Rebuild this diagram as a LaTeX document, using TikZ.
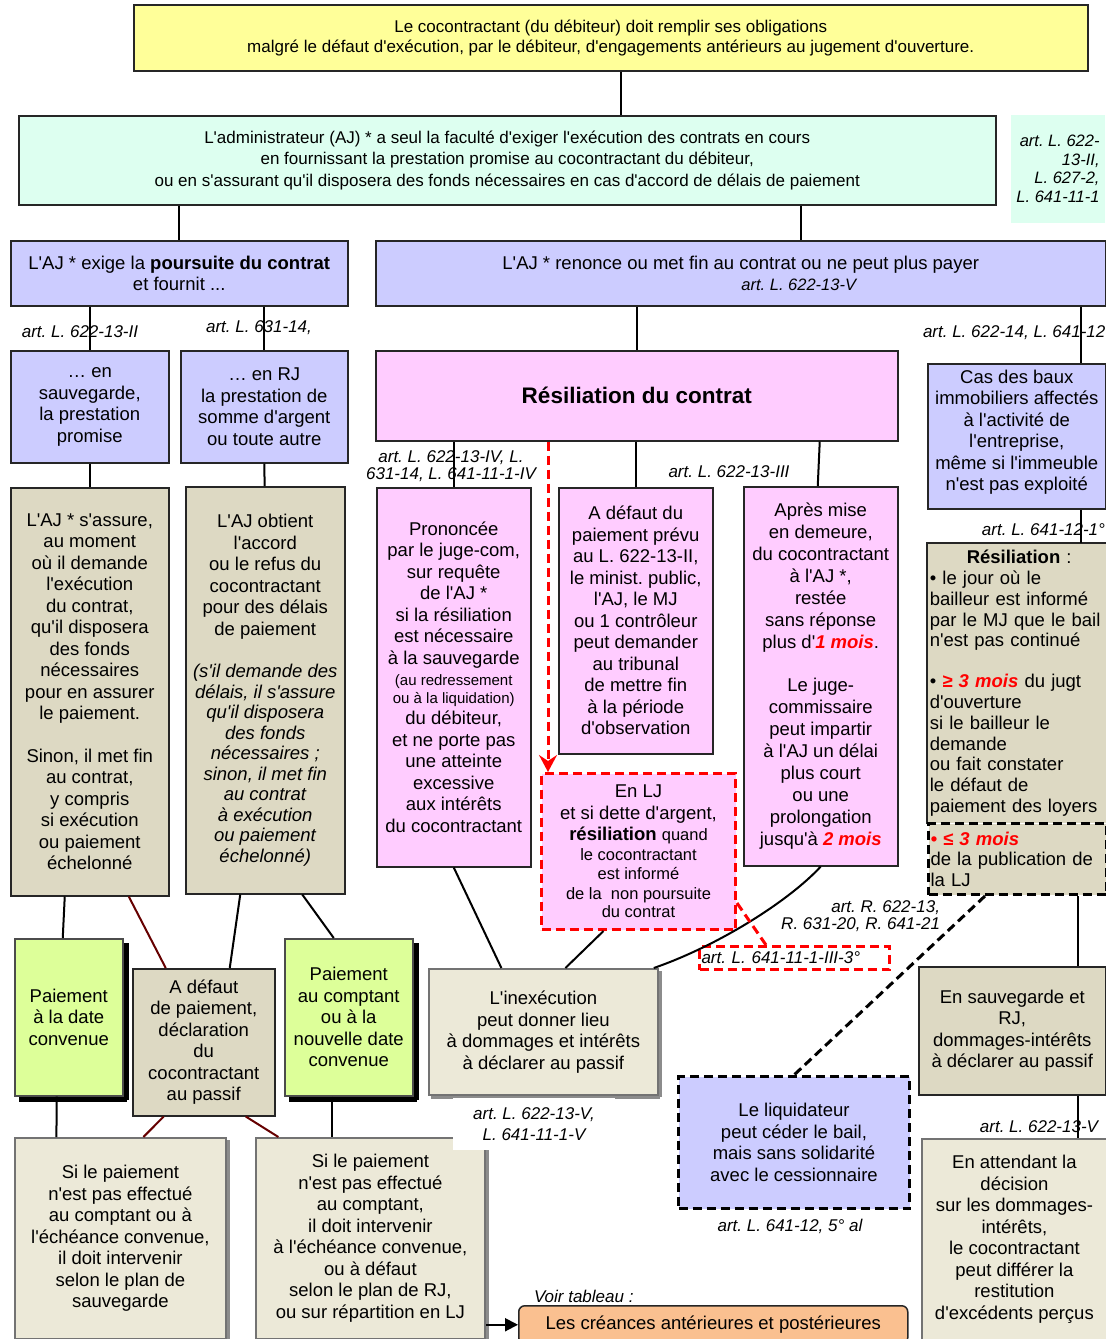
\documentclass[tikz,border=0pt]{standalone}
\usepackage{fontspec}
\setmainfont{Liberation Sans}[Ligatures=TeXOff]
\usetikzlibrary{arrows.meta}
\definecolor{jaune}{HTML}{FFFF99}
\definecolor{menthe}{HTML}{DDFFF0}
\definecolor{lavande}{HTML}{CCCCFF}
\definecolor{rose}{HTML}{FFCCFF}
\definecolor{beige}{HTML}{DDD9C3}
\definecolor{beigeclair}{HTML}{ECE9D8}
\definecolor{vert}{HTML}{DDFF99}
\definecolor{peche}{HTML}{FAC090}
\definecolor{brun}{HTML}{660000}
\newcommand\rouge[1]{\textcolor{red}{\bfseries\itshape #1}}
\newcommand\petit[1]{{\fontsize{16.5}{19.5}\selectfont #1}}
\newcommand\minus[1]{{\fontsize{15}{17}\selectfont #1}}
\frenchspacing
\begin{document}
\begin{tikzpicture}[x=1pt, y=-1pt, line width=2pt,
  box/.style={draw=black!85, line width=1.5pt, anchor=north west, align=center, inner sep=2pt,
    font=\fontsize{18.5}{21.5}\selectfont},
  flat/.style={box, fill=beige},
  relief/.style={box, fill=beigeclair, draw=black!55, line width=1.8pt},
  vertbox/.style={box, fill=vert, draw=black!70},
  ombre/.style={fill=black},
  ombregris/.style={fill=black!45},
  tirets/.style={dash pattern=on 9pt off 5pt, line width=3pt},
  art/.style={font=\fontsize{17}{19}\selectfont\itshape, inner sep=0pt, align=center}]
  \path[use as bounding box, fill=white] (0,0) rectangle (1106,1339);

  \node[box, fill=jaune, minimum width=954pt, minimum height=66pt, font=\fontsize{17}{20}\selectfont] (top) at (133,4)
    {Le cocontractant (du débiteur) doit remplir ses obligations\\malgré le défaut d'exécution, par le débiteur, d'engagements antérieurs au jugement d'ouverture.};
  \node[box, fill=menthe, minimum width=977pt, minimum height=89pt, font=\fontsize{17}{21.5}\selectfont] (admin) at (18,115)
    {L'administrateur (AJ) * a seul la faculté d'exiger l'exécution des contrats en cours\\en fournissant la prestation promise au cocontractant du débiteur,\\ou en s'assurant qu'il disposera des fonds nécessaires en cas d'accord de délais de paiement};
  \node[art, fill=menthe, anchor=north east, minimum width=94pt, minimum height=108pt, align=right,
    font=\fontsize{16.5}{18.5}\selectfont\itshape] (artadmin) at (1106,114) {art. L. 622-\\13-II,\\L. 627-2,\\L. 641-11-1};

  \node[box, fill=lavande, minimum width=337pt, minimum height=65pt] (pours) at (10,240)
    {L'AJ * exige la \textbf{poursuite du contrat}\\et fournit ...};
  \node[box, fill=lavande, minimum width=730pt, minimum height=65pt] (renonce) at (375,240)
    {L'AJ * renonce ou met fin au contrat ou ne peut plus payer\\\hspace*{116pt}{\itshape\fontsize{16.5}{19}\selectfont art. L. 622-13-V}};
  \node[box, fill=lavande, minimum width=158pt, minimum height=112pt] (sauv) at (10,350)
    {… en\\sauvegarde,\\la prestation\\promise};
  \node[box, fill=lavande, minimum width=167pt, minimum height=112pt] (rj) at (180,350)
    {… en RJ\\la prestation de\\somme d'argent\\ou toute autre};
  \node[box, fill=rose, minimum width=522pt, minimum height=90pt, font=\fontsize{22.5}{26}\selectfont\bfseries] (resil) at (375,350)
    {Résiliation du contrat};
  \node[box, fill=lavande, minimum width=178pt, minimum height=145pt] (baux) at (927,363)
    {Cas des baux\\immobiliers affectés\\à l'activité de\\l'entreprise,\\même si l'immeuble\\n'est pas exploité\\[-10pt]};

  \node[flat, minimum width=158pt, minimum height=408pt] (assure) at (10,487)
    {L'AJ * s'assure,\\au moment\\où il demande\\l'exécution\\du contrat,\\qu'il disposera\\des fonds\\nécessaires\\pour en assurer\\le paiement.\\[21pt]Sinon, il met fin\\au contrat,\\y compris\\si exécution\\ou paiement\\échelonné};
  \node[flat, minimum width=159pt, minimum height=407pt] (obtient) at (185,486)
    {L'AJ obtient\\l'accord\\ou le refus du\\cocontractant\\pour des délais\\de paiement\\[21pt]\textit{(s'il demande des}\\[-1pt]\textit{délais, il s'assure}\\[-1pt]\textit{qu'il disposera}\\[-1pt]\textit{des fonds}\\[-1pt]\textit{nécessaires ;}\\[-1pt]\textit{sinon, il met fin}\\[-1pt]\textit{au contrat}\\[-1pt]\textit{à exécution}\\[-1pt]\textit{ou paiement}\\[-1pt]\textit{échelonné)}};
  \node[box, fill=rose, minimum width=154pt, minimum height=379pt] (prononcee) at (376,487)
    {Prononcée\\par le juge-com,\\sur requête\\de l'AJ *\\si la résiliation\\est nécessaire\\à la sauvegarde\\\minus{(au redressement}\\[-4pt]\minus{ou à la liquidation)}\\du débiteur,\\et ne porte pas\\une atteinte\\excessive\\aux intérêts\\du cocontractant};
  \node[box, fill=rose, minimum width=154pt, minimum height=266pt] (defaut) at (558,487)
    {A défaut du\\paiement prévu\\au L. 622-13-II,\\le minist. public,\\l'AJ, le MJ\\ou 1 contrôleur\\peut demander\\au tribunal\\de mettre fin\\à la période\\d'observation};
  \node[box, fill=rose, minimum width=154pt, minimum height=379pt, font=\fontsize{18.5}{22}\selectfont] (apres) at (743,486)
    {Après mise\\en demeure,\\du cocontractant\\à l'AJ *,\\restée\\sans réponse\\plus d'\rouge{1 mois}.\\[21pt]Le juge-\\commissaire\\peut impartir\\à l'AJ un délai\\plus court\\ou une\\prolongation\\jusqu'à \rouge{2 mois}};
  \node[box, fill=rose, draw=red, tirets, minimum width=194pt, minimum height=156pt] (lj) at (540,772)
    {En LJ\\et si dette d'argent,\\\textbf{résiliation} \petit{quand}\\[-2pt]\petit{le cocontractant}\\[-2pt]\petit{est informé}\\[-2pt]\petit{de la\ \ non poursuite}\\[-3pt]\petit{du contrat}};
  \node[art, draw=red, tirets, anchor=north west, text width=186pt, inner xsep=2pt, minimum height=23pt, align=left] (artlj) at (698,945)
    {art. L. 641-11-1-III-3°};

  \node[flat, draw=none, minimum width=178pt, minimum height=279pt, text width=174pt, align=left,
    font=\fontsize{18.5}{20.8}\selectfont] (resillj) at (927,543)
    {\hspace*{37pt}\textbf{Résiliation} :\\• le jour où le\\bailleur est informé\\par le MJ que le bail\\n'est pas continué\\[20pt]• \rouge{≥ 3 mois} du jugt\\d'ouverture\\si le bailleur le\\demande\\ou fait constater\\le défaut de\\paiement des loyers};
  \draw[line width=1.5pt, black!85] (resillj.south west) -- (resillj.north west) -- (resillj.north east) -- (resillj.south east);
  \node[flat, draw=black, tirets, minimum width=178pt, minimum height=71pt, text width=174pt, align=left,
    font=\fontsize{18.5}{20.5}\selectfont] (ljdelai) at (927,822)
    {\rouge{• ≤ 3 mois}\\de la publication de\\la LJ};
  \node[flat, minimum width=187pt, minimum height=128pt] (ensauv) at (918,966)
    {En sauvegarde et\\RJ,\\dommages-intérêts\\à déclarer au passif};
  \node[relief, minimum width=185pt, minimum height=201pt] (attend) at (921,1138)
    {En attendant la\\décision\\sur les dommages-\\intérêts,\\le cocontractant\\peut différer la\\restitution\\d'excédents perçus};
  \node[box, fill=lavande, draw=black, tirets, minimum width=231pt, minimum height=132pt] (liquid) at (677,1075)
    {Le liquidateur\\peut céder le bail,\\mais sans solidarité\\avec le cessionnaire};
  \node[relief, minimum width=229pt, minimum height=126pt] (inexec) at (428,968)
    {L'inexécution\\peut donner lieu\\à dommages et intérêts\\à déclarer au passif};
  \fill[ombregris] (inexec.north east) ++(0,3) rectangle ++(3,126);
  \fill[ombregris] (inexec.south west) ++(3,0) rectangle ++(229,3);

  \node[vertbox, minimum width=108pt, minimum height=157pt] (paidate) at (14,938)
    {Paiement\\à la date\\convenue};
  \fill[ombre] (paidate.north east) ++(0,5) rectangle ++(5,157);
  \fill[ombre] (paidate.south west) ++(5,0) rectangle ++(108,5);
  \node[flat, minimum width=142pt, minimum height=147pt] (defpai) at (132,968)
    {A défaut\\de paiement,\\déclaration\\du\\cocontractant\\au passif};
  \node[vertbox, minimum width=128pt, minimum height=157pt] (paicompt) at (284,938)
    {Paiement\\au comptant\\ou à la\\nouvelle date\\convenue};
  \fill[ombre] (paicompt.north east) ++(0,5) rectangle ++(5,157);
  \fill[ombre] (paicompt.south west) ++(5,0) rectangle ++(128,5);
  \node[relief, minimum width=211pt, minimum height=201pt] (sileft) at (14,1137)
    {Si le paiement\\n'est pas effectué\\au comptant ou à\\l'échéance convenue,\\il doit intervenir\\selon le plan de\\sauvegarde};
  \fill[ombregris] (sileft.north east) ++(0,3) rectangle ++(3,201);
  \node[relief, minimum width=229pt, minimum height=201pt] (siright) at (255,1137)
    {Si le paiement\\n'est pas effectué\\au comptant,\\il doit intervenir\\à l'échéance convenue,\\ou à défaut\\selon le plan de RJ,\\ou sur répartition en LJ};
  \fill[ombregris] (siright.north east) ++(0,3) rectangle ++(3,201);
  \node[box, fill=peche, rounded corners=6pt, minimum width=389pt, minimum height=38pt] (creances) at (518,1305)
    {Les créances antérieures et postérieures};

  \node[art] (art1) at (80,332) {art. L. 622-13-II};
  \node[art] (art2) at (259,328) {art. L. 631-14,};
  \node[art, anchor=west] (art3) at (922,333) {art. L. 622-14, L. 641-12};
  \node[art, font=\fontsize{17}{17.5}\selectfont\itshape] (art4) at (451,466) {art. L. 622-13-IV, L.\\631-14, L. 641-11-1-IV};
  \node[art] (art5) at (729,472) {art. L. 622-13-III};
  \node[art, anchor=east] (art6) at (1106,530) {art. L. 641-12-1°};
  \node[art, anchor=east, align=right, font=\fontsize{17}{17.5}\selectfont\itshape] (art7) at (941,916) {art. R. 622-13,\\R. 631-20, R. 641-21};
  \node[art, fill=white, font=\fontsize{17}{21}\selectfont\itshape, minimum width=162pt, minimum height=52pt] (art8) at (534,1124) {art. L. 622-13-V,\\L. 641-11-1-V};
  \node[art] (art9) at (790,1226) {art. L. 641-12, 5° al};
  \node[art] (art10) at (1039,1127) {art. L. 622-13-V};
  \node[art, anchor=west] (voir) at (533,1296) {Voir tableau :};

  \draw ([xshift=10pt]top.south) -- ([xshift=10pt]top.south |- admin.north);
  \draw (admin.south -| pours.north) -- (pours.north);
  \draw ([xshift=60pt]renonce.north |- admin.south) -- ([xshift=60pt]renonce.north);
  \draw (pours.south -| sauv.north) -- (sauv.north);
  \draw (pours.south -| rj.north) -- (rj.north);
  \draw (sauv) -- (assure);
  \draw (rj) -- (obtient);
  \draw (renonce.south -| resil.north) -- (resil.north);
  \draw ([xshift=64pt]baux.north |- renonce.south) -- ([xshift=64pt]baux.north);
  \draw ([xshift=64pt]baux.south) -- ([xshift=64pt]baux.south |- resillj.north);
  \draw (resil.south -| prononcee.north) -- (prononcee.north);
  \draw (resil.south -| defaut.north) -- (defaut.north);
  \draw ([xshift=-1pt]resil.south -| apres.north) -- ([xshift=-3pt]apres.north);
  \draw[red, tirets, -{Stealth[length=17pt, width=18pt, inset=6pt]}] ([xshift=8pt]lj.north west |- resil.south) -- ([xshift=8pt]lj.north west);
  \draw (prononcee.south) -- ([xshift=-42pt]inexec.north);
  \draw ([xshift=-35pt]lj.south) -- ([xshift=22pt]inexec.north);
  \draw (apres.south) .. controls (790,900) and (720,945) .. ([xshift=-5pt]inexec.north east);
  \draw[red, tirets] ([yshift=28pt]lj.south east) -- ([xshift=68pt]artlj.north west);
  \draw[tirets] ([xshift=58pt]ljdelai.south west) -- (liquid.north);
  \draw ([xshift=66pt]ensauv.north |- ljdelai.south) -- ([xshift=66pt]ensauv.north);
  \draw ([xshift=66pt]ensauv.south) -- ([xshift=66pt]ensauv.south |- attend.north);
  \draw ([xshift=-25pt]assure.south) -- ([xshift=-6pt]paidate.north);
  \draw[brun] ([xshift=39pt]assure.south) -- ([xshift=-38pt]defpai.north);
  \draw ([xshift=-25pt]obtient.south) -- ([xshift=26pt]defpai.north);
  \draw ([xshift=37pt]obtient.south) -- ([xshift=-15pt]paicompt.north);
  \draw ([xshift=-12pt]paidate.south) -- ([xshift=-64pt]sileft.north);
  \draw[brun] ([xshift=-40pt]defpai.south) -- ([xshift=23pt]sileft.north);
  \draw[brun] ([xshift=42pt]defpai.south) -- ([xshift=-92pt]siright.north);
  \draw ([xshift=-17pt]paicompt.south) -- ([xshift=-17pt]paicompt.south |- siright.north);
  \draw[-{Triangle[length=13pt, width=13pt]}] (siright.east |- creances.west) -- (creances.west);
\end{tikzpicture}
\end{document}
